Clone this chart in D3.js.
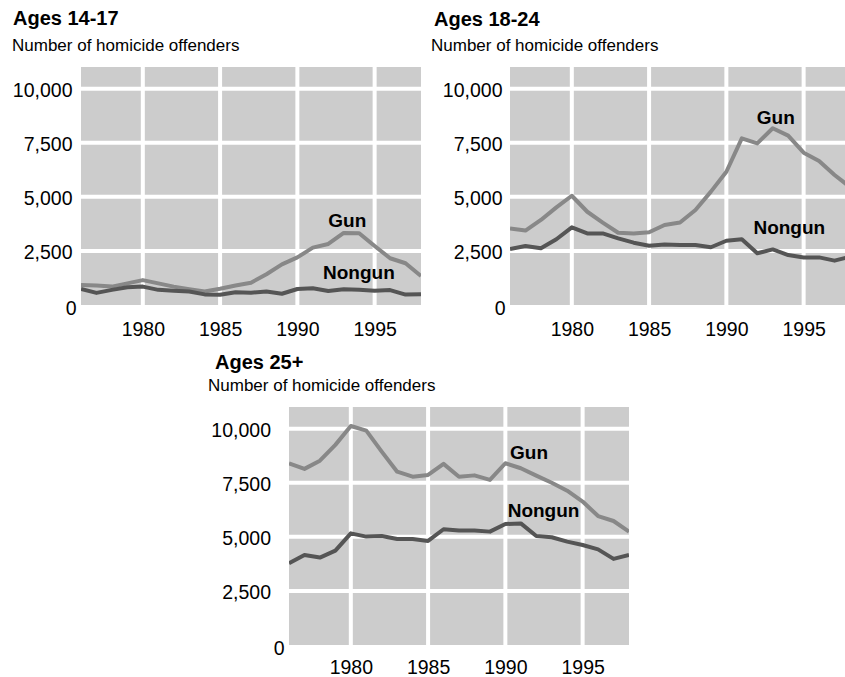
<!DOCTYPE html>
<html>
<head>
<meta charset="utf-8">
<script src="https://cdn.jsdelivr.net/npm/d3@7"></script>
<style>
  body { margin: 0; background: #fff; }
</style>
</head>
<body>
<div id="container"></div>
<script>
'use strict'
// data
const years  = [1976,1977,1978,1979,1980,1981,1982,1983,1984,1985,1986,1987,1988,1989,1990,1991,1992,1993,1994,1995,1996,1997,1998];
const xTicks = [1980, 1985, 1990, 1995];
const yTicks = [0, 2500, 5000, 7500, 10000];

const gun1417    = [930, 900, 850, 1000, 1150, 1000, 850, 730, 620, 750, 900, 1030, 1420, 1880, 2200, 2650, 2820, 3330, 3320, 2730, 2160, 1930, 1340];
const nongun1417 = [740, 560, 700, 820, 850, 700, 660, 620, 490, 470, 590, 570, 620, 520, 740, 770, 650, 730, 710, 660, 690, 480, 500];
const gun1824    = [3540, 3440, 3930, 4510, 5050, 4310, 3810, 3340, 3310, 3360, 3700, 3810, 4390, 5240, 6160, 7700, 7470, 8170, 7830, 7040, 6660, 6010, 5450];
const nongun1824 = [2590, 2730, 2620, 3040, 3590, 3310, 3310, 3080, 2880, 2740, 2800, 2770, 2770, 2670, 2970, 3040, 2390, 2570, 2310, 2200, 2200, 2050, 2230];
const gun25      = [8400, 8140, 8520, 9250, 10120, 9910, 8940, 8010, 7780, 7860, 8370, 7780, 7840, 7630, 8400, 8170, 7830, 7500, 7130, 6630, 5960, 5730, 5240];
const nongun25   = [3780, 4160, 4040, 4360, 5160, 5010, 5040, 4900, 4900, 4810, 5350, 5290, 5290, 5240, 5590, 5620, 5040, 4980, 4780, 4620, 4420, 3980, 4160];

const seriesNames = ['Gun', 'Nongun'];

const w = 845, h = 677;
const pw = 340, ph = 238;
const font = '"Liberation Sans", Arial, Helvetica, sans-serif';
const colors = { Gun: '#888888', Nongun: '#555555' };

// layout of the three small charts
const panels = [
  { title: 'Ages 14-17', series: [gun1417, nongun1417], left: 81, top: 67,
    tx: 13, ty: 25, sx: 12, sy: 50.5, yPad: 8.5, xPad: 17,
    lab: [[1992.0, 3600], [1991.66, 1200]] },
  { title: 'Ages 18-24', series: [gun1824, nongun1824], left: 510, top: 67,
    tx: 434, ty: 26, sx: 431, sy: 50.5, yPad: 7.5, xPad: 17,
    lab: [[1991.97, 8370], [1991.75, 3270]] },
  { title: 'Ages 25+', series: [gun25, nongun25], left: 289, top: 407,
    tx: 215, ty: 369, sx: 208, sy: 390.5, yPad: 18, xPad: 15.5,
    lab: [[1990.3, 8580], [1990.15, 5930]] }
];

const svg = d3.select('#container')
              .append('svg')
              .attr('width', w)
              .attr('height', h)
              .style('display', 'block');

panels.forEach(function (p, k) {
  const x = d3.scaleLinear().domain([1976, 1998]).range([p.left, p.left + pw]);
  const y = d3.scaleLinear().domain([0, 11000]).range([p.top + ph, p.top]);

  // titles
  svg.append('text').text(p.title)
     .attr('x', p.tx).attr('y', p.ty)
     .style('font-family', font).style('font-size', '20px').style('font-weight', 'bold');
  svg.append('text').text('Number of homicide offenders')
     .attr('x', p.sx).attr('y', p.sy)
     .style('font-family', font).style('font-size', '17px');

  // plot background
  svg.append('rect')
     .attr('x', x.range()[0]).attr('y', y.range()[1])
     .attr('width', pw).attr('height', ph)
     .attr('fill', '#cccccc');

  svg.append('clipPath').attr('id', 'clip' + k)
     .append('rect')
     .attr('x', x.range()[0]).attr('y', y.range()[1])
     .attr('width', pw).attr('height', ph);

  // white grid
  svg.append('g').selectAll('line')
     .data(xTicks).enter().append('line')
     .attr('x1', d => x(d)).attr('x2', d => x(d))
     .attr('y1', y.range()[1]).attr('y2', y.range()[0])
     .attr('stroke', '#fff').attr('stroke-width', 4);
  svg.append('g').selectAll('line')
     .data(yTicks.filter(d => d > 0)).enter().append('line')
     .attr('x1', x.range()[0]).attr('x2', x.range()[1])
     .attr('y1', d => y(d)).attr('y2', d => y(d))
     .attr('stroke', '#fff').attr('stroke-width', 4);

  // lines
  const line = d3.line().x((d, i) => x(years[i])).y(d => y(d));
  const gl = svg.append('g').attr('clip-path', 'url(#clip' + k + ')');
  p.series.forEach(function (s, j) {
    gl.append('path').datum(s)
      .attr('d', line)
      .attr('fill', 'none')
      .attr('stroke', colors[seriesNames[j]])
      .attr('stroke-width', 4)
      .attr('stroke-linejoin', 'round');
  });

  // series labels
  seriesNames.forEach(function (name, j) {
    svg.append('text').text(name)
       .attr('x', x(p.lab[j][0])).attr('y', y(p.lab[j][1]))
       .style('font-family', font).style('font-size', '19px').style('font-weight', 'bold');
  });

  // axes
  const yAxis = d3.axisLeft(y).tickValues(yTicks).tickFormat(d3.format(',')).tickSize(0).tickPadding(p.yPad);
  const ga = svg.append('g').attr('transform', 'translate(' + x.range()[0] + ',0)').call(yAxis);
  ga.select('.domain').remove();
  ga.attr('font-family', font).attr('font-size', 19.5);
  ga.selectAll('text').attr('fill', '#000').attr('dy', '0.41em');
  ga.selectAll('.tick').filter(d => d === 0).select('text').attr('x', -4.5).attr('dy', '0.5em');

  const xAxis = d3.axisBottom(x).tickValues(xTicks).tickFormat(d3.format('d')).tickSize(0).tickPadding(p.xPad);
  const gx = svg.append('g').attr('transform', 'translate(0,' + y.range()[0] + ')').call(xAxis);
  gx.select('.domain').remove();
  gx.attr('font-family', font).attr('font-size', 19.5);
  gx.selectAll('text').attr('fill', '#000');
});
</script>
</body>
</html>
